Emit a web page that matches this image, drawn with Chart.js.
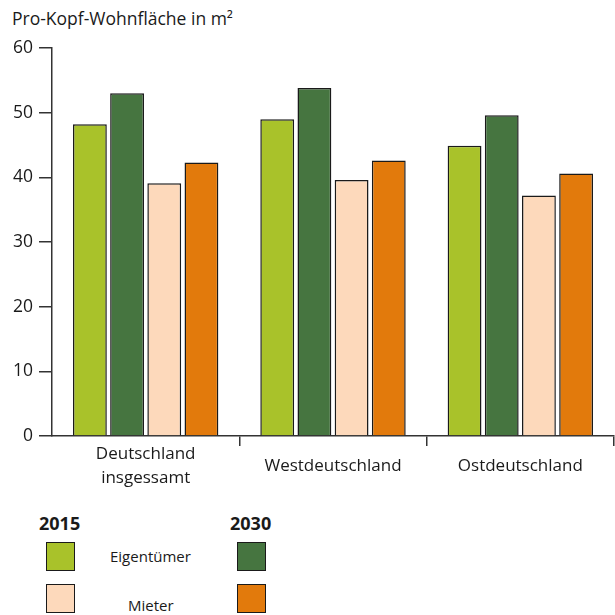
<!DOCTYPE html>
<html>
<head>
<meta charset="utf-8">
<script src="https://cdn.jsdelivr.net/npm/chart.js@4"></script>
<style>
  body { margin: 0; background: #fff; font-family: 'Open Sans', sans-serif; color: #1a1a1a; }
  #wrap { position: relative; width: 615px; height: 615px; overflow: hidden; }
  #chartBox { position: absolute; left: 0; top: 0; width: 615px; height: 500px; }
  .txt { position: absolute; white-space: nowrap; }
  .sw { position: absolute; width: 29px; height: 29px; border: 1.5px solid #1a1a1a; box-sizing: border-box; }
</style>
</head>
<body>
<div id="wrap">
  <div class="txt" style="left:12px;top:6px;font-size:17.5px;">Pro-Kopf-Wohnfläche in m²</div>
  <div id="chartBox"><canvas id="c"></canvas></div>
  <div id="legend"></div>
</div>
<script>
// Pro-Kopf-Wohnfläche: Eigentümer vs. Mieter, 2015 und 2030
const categories = [['Deutschland', 'insgessamt'], 'Westdeutschland', 'Ostdeutschland'];
const yTicks = [0, 10, 20, 30, 40, 50, 60];
const eigentuemer2015 = [48.2, 49.0, 44.9];
const eigentuemer2030 = [53.0, 53.8, 49.6];
const mieter2015 = [39.1, 39.6, 37.2];
const mieter2030 = [42.3, 42.6, 40.6];
const years = ['2015', '2030'];
const groups = ['Eigentümer', 'Mieter'];

const colors = {
    e2015: '#a9c22a',
    e2030: '#467540',
    m2015: '#fdd9bb',
    m2030: '#e27a0c'
};
const edge = '#1a1a1a';

document.addEventListener('DOMContentLoaded', function () {
    const mk = (label, data, color) => ({
        label, data,
        backgroundColor: color,
        borderColor: edge,
        borderWidth: 1.5,
        borderSkipped: 'bottom',
        categoryPercentage: 0.794,
        barPercentage: 0.91
    });

    new Chart(document.getElementById('c'), {
        type: 'bar',
        data: {
            labels: categories,
            datasets: [
                mk('Eigentümer 2015', eigentuemer2015, colors.e2015),
                mk('Eigentümer 2030', eigentuemer2030, colors.e2030),
                mk('Mieter 2015', mieter2015, colors.m2015),
                mk('Mieter 2030', mieter2030, colors.m2030)
            ]
        },
        options: {
            responsive: true, maintainAspectRatio: false, animation: false,
            layout: { padding: { top: 48, right: 1, left: 0, bottom: 0 } },
            plugins: { legend: { display: false }, tooltip: { enabled: false }, title: { display: false } },
            scales: {
                x: {
                    offset: true,
                    grid: {
                        offset: true, drawOnChartArea: false, tickLength: 10, lineWidth: 1.5,
                        color: ctx => ctx.index === 0 ? 'rgba(0,0,0,0)' : '#333'
                    },
                    border: { color: '#333', width: 1.5 },
                    ticks: {
                        color: '#1a1a1a', crossAlign: 'center', padding: 8,
                        font: { family: 'Open Sans', size: 17, lineHeight: 1.42 }
                    },
                    afterFit: s => { s.height = 64; }
                },
                y: {
                    min: 0, max: 60,
                    afterBuildTicks: s => { s.ticks = yTicks.map(v => ({ value: v })); },
                    grid: { drawOnChartArea: false, tickLength: 13, lineWidth: 1.5, color: '#333' },
                    border: { color: '#333', width: 1.5 },
                    ticks: { color: '#1a1a1a', padding: 6, font: { family: 'Open Sans', size: 17.5 } },
                    afterFit: s => { s.width = 52; }
                }
            }
        }
    });

    // Legend: years across, groups down
    const legend = document.getElementById('legend');
    const add = (html, css, cls) => {
        const d = document.createElement('div');
        d.className = cls || 'txt';
        d.style.cssText = css;
        if (html) d.textContent = html;
        legend.appendChild(d);
    };
    add(years[0], 'left:39px;top:511px;font-size:18px;font-weight:bold;');
    add(years[1], 'left:230px;top:511px;font-size:18px;font-weight:bold;');
    add(groups[0], 'left:110px;top:546px;font-size:15px;');
    add(groups[1], 'left:128px;top:595px;font-size:15px;');
    add('', 'left:46px;top:542px;background:' + colors.e2015, 'sw');
    add('', 'left:237px;top:542px;background:' + colors.e2030, 'sw');
    add('', 'left:46px;top:584px;background:' + colors.m2015, 'sw');
    add('', 'left:237px;top:584px;background:' + colors.m2030, 'sw');
});
</script>
</body>
</html>
